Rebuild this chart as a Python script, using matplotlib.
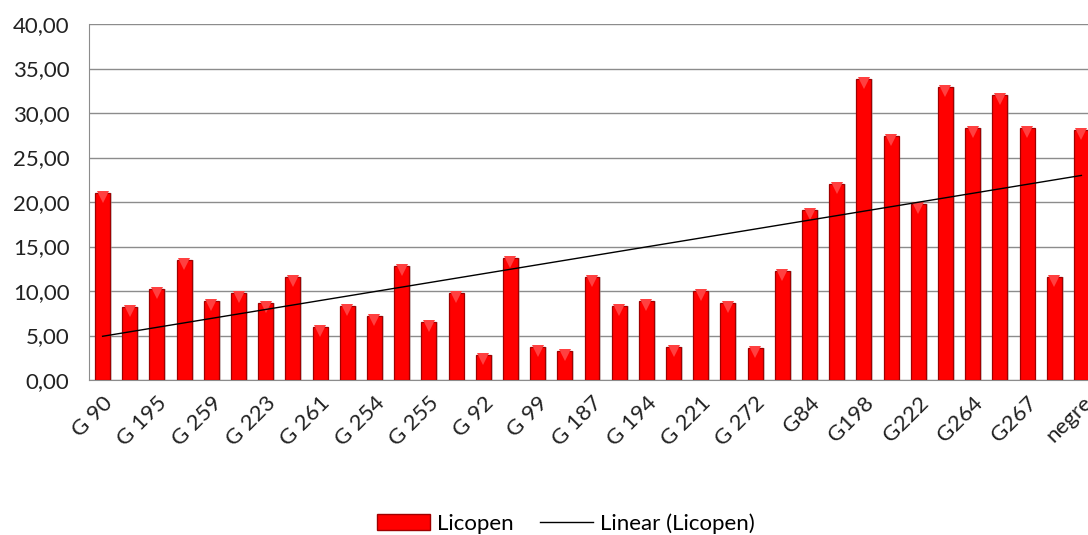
import numpy as np
import matplotlib.pyplot as plt
import matplotlib.transforms as mtransforms
from matplotlib.lines import Line2D
from matplotlib.patches import Patch

plt.rcParams['font.family'] = ['Lato', 'DejaVu Sans']

# Licopen per mostra (37 barres, etiqueta visible cada dues)
licopen = [21.0, 8.2, 10.2, 13.5, 8.9, 9.8, 8.6, 11.6, 5.9, 8.3,
           7.2, 12.8, 6.5, 9.8, 2.8, 13.7, 3.7, 3.3, 11.6, 8.3,
           8.9, 3.7, 10.0, 8.6, 3.6, 12.3, 19.1, 22.0, 33.8, 27.4,
           19.8, 32.9, 28.3, 32.0, 28.3, 11.6, 28.1]
tick_labels = ['G 90', 'G 195', 'G 259', 'G 223', 'G 261', 'G 254', 'G 255',
               'G 92', 'G 99', 'G 187', 'G 194', 'G 221', 'G 272', 'G84',
               'G198', 'G222', 'G264', 'G267', 'negre']
y_ticks = [0, 5, 10, 15, 20, 25, 30, 35, 40]

x = np.arange(len(licopen))

fig = plt.figure(figsize=(10.88, 5.35), dpi=100)
# l'eix continua una mica més enllà de la vora dreta (com a l'original)
ax = fig.add_axes([89 / 1088, 155 / 535, 1006 / 1088, 356 / 535])

ax.set_axisbelow(True)
ax.grid(axis='y', color='#8c8c8c', linewidth=1.0)

# ombra i barres
ax.bar(x + 0.07, licopen, width=0.55, color='#a0a0a0', alpha=0.45, zorder=2)
ax.bar(x, licopen, width=0.55, color='#ff0000', edgecolor='#a00000',
       linewidth=0.9, zorder=3)
# petit bisell clar a dalt de cada barra
down = mtransforms.ScaledTranslation(0, -4 / 100, fig.dpi_scale_trans)
ax.plot(x, licopen, linestyle='none', marker='v', markersize=8,
        color='#ff4040', markeredgewidth=0, zorder=3.5,
        transform=ax.transData + down)

# línia de tendència
coef = np.polyfit(x, licopen, 1)
ax.plot(x, np.polyval(coef, x), color='black', linewidth=1.0, zorder=4)

ax.set_xlim(-0.5, len(licopen) - 0.5)
ax.set_ylim(0, 40)
ax.set_yticks(y_ticks)
ax.set_yticklabels([f'{v:.2f}'.replace('.', ',') for v in y_ticks], fontsize=16, color='#222222')
ax.set_xticks(x[::2])
ax.set_xticklabels(tick_labels, rotation=45, ha='right', rotation_mode='anchor',
                   fontsize=16, color='#222222')
ax.tick_params(axis='y', length=0, pad=14)
ax.tick_params(axis='x', length=0, pad=9)

for s in ['top', 'right']:
    ax.spines[s].set_visible(False)
for s in ['left', 'bottom']:
    ax.spines[s].set_color('#8c8c8c')

handles = [Patch(facecolor='#ff0000', edgecolor='#a00000', label='Licopen'),
           Line2D([0], [0], color='black', linewidth=1.0, label='Linear (Licopen)')]
fig.legend(handles=handles, loc='lower center', bbox_to_anchor=(0.52, -0.035), ncol=2,
           frameon=False, fontsize=16, handlelength=2.4, handleheight=0.7,
           columnspacing=1.2, handletextpad=0.3)

fig.savefig('out.png', dpi=100)
